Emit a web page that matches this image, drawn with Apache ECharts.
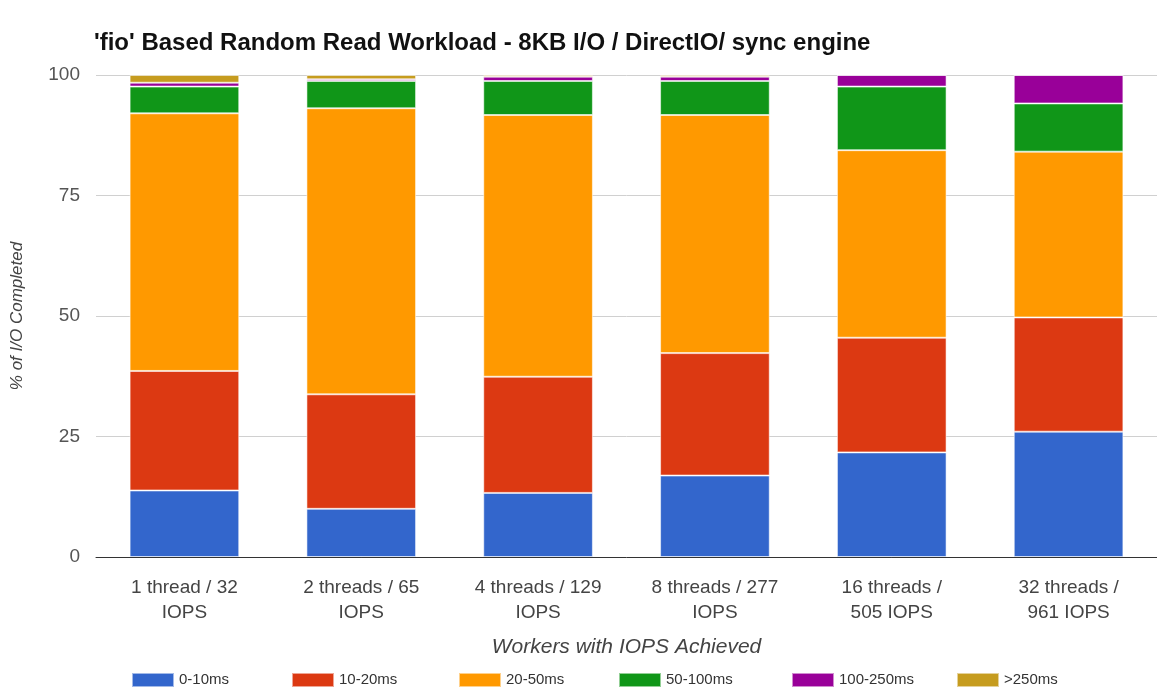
<!DOCTYPE html>
<html>
<head>
<meta charset="utf-8">
<script src="https://cdn.jsdelivr.net/npm/echarts@6/dist/echarts.min.js"></script>
<style>
html,body{margin:0;padding:0;background:#fff;}
#chart{width:1157px;height:693px;}
</style>
</head>
<body>
<div id="chart"></div>
<script>
var categories = ['1 thread / 32\nIOPS', '2 threads / 65\nIOPS', '4 threads / 129\nIOPS', '8 threads / 277\nIOPS', '16 threads /\n505 IOPS', '32 threads /\n961 IOPS'];
var seriesNames = ['0-10ms', '10-20ms', '20-50ms', '50-100ms', '100-250ms', '>250ms'];
var s0_10 = [13.8, 10.0, 13.3, 16.9, 21.7, 26.0];
var s10_20 = [24.8, 23.75, 24.1, 25.4, 23.8, 23.7];
var s20_50 = [53.45, 59.35, 54.3, 49.4, 38.9, 34.4];
var s50_100 = [5.55, 5.65, 7.05, 7.05, 13.2, 10.0];
var s100_250 = [0.8, 0.35, 0.9, 0.9, 2.4, 5.9];
var s250 = [1.6, 0.9, 0.35, 0.35, 0, 0];
var yTicks = [0, 25, 50, 75, 100];

var colors = ['#3366cc', '#dc3912', '#ff9900', '#109618', '#990099', '#c69c1f'];
var dataSets = [s0_10, s10_20, s20_50, s50_100, s100_250, s250];
var legendLefts = [126, 286, 453, 613, 786, 951];
var FONT = '"Liberation Sans", Arial, sans-serif';

var chart = echarts.init(document.getElementById('chart'), null, {renderer: 'canvas'});
var series = seriesNames.map(function (n, i) {
  return {
    name: n,
    type: 'bar',
    stack: 'total',
    barCategoryGap: '38%',
    data: dataSets[i],
    itemStyle: {color: colors[i], borderColor: 'rgba(255,255,255,0.55)', borderWidth: 1},
    emphasis: {disabled: true}
  };
});
var legends = seriesNames.map(function (n, i) {
  return {
    bottom: 0,
    left: legendLefts[i],
    itemWidth: 42,
    itemHeight: 14,
    icon: 'rect',
    selectedMode: false,
    textStyle: {fontFamily: FONT, fontSize: 15, color: '#333'},
    data: [n]
  };
});

chart.setOption({
  animation: false,
  backgroundColor: '#ffffff',
  textStyle: {fontFamily: FONT},
  title: {
    text: "'fio' Based Random Read Workload - 8KB I/O / DirectIO/ sync engine",
    left: 89,
    top: 26,
    textStyle: {fontFamily: FONT, fontSize: 24, fontWeight: 'bold', color: '#111'}
  },
  legend: legends,
  grid: {left: 96, right: -9, top: 75, bottom: 136, containLabel: false},
  xAxis: {
    type: 'category',
    data: categories,
    name: 'Workers with IOPS Achieved',
    nameLocation: 'middle',
    nameGap: 80,
    nameTextStyle: {fontFamily: FONT, fontSize: 21, fontStyle: 'italic', color: '#444'},
    axisLine: {lineStyle: {color: '#333', width: 1}},
    axisTick: {show: false},
    axisLabel: {fontFamily: FONT, fontSize: 19, color: '#444', margin: 18, lineHeight: 25, interval: 0}
  },
  yAxis: {
    type: 'value',
    min: yTicks[0],
    max: yTicks[yTicks.length - 1],
    interval: 25,
    name: '% of I/O Completed',
    nameLocation: 'middle',
    nameGap: 70,
    nameRotate: 90,
    nameTextStyle: {fontFamily: FONT, fontSize: 17, fontStyle: 'italic', color: '#444'},
    axisLine: {show: false},
    axisTick: {show: false},
    axisLabel: {fontFamily: FONT, fontSize: 19, color: '#555', margin: 16},
    splitLine: {lineStyle: {color: '#d0d0d0', width: 1}}
  },
  series: series
});
</script>
</body>
</html>
